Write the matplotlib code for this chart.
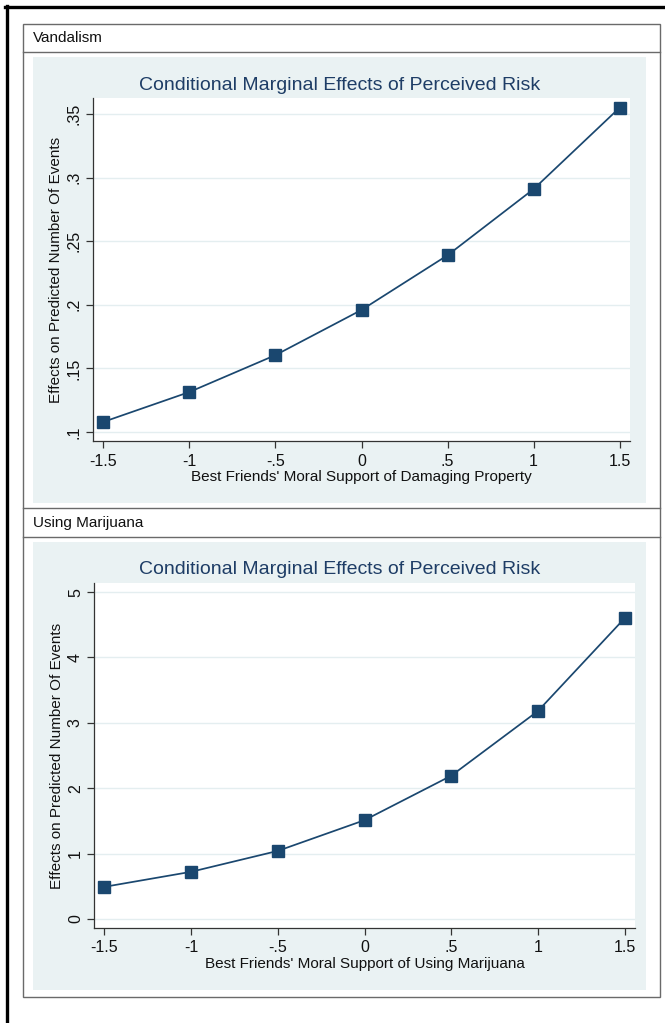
import matplotlib
matplotlib.use("Agg")
import matplotlib.pyplot as plt
from matplotlib.patches import Rectangle
from matplotlib.lines import Line2D

plt.rcParams['font.family'] = ['Liberation Sans', 'DejaVu Sans']

# ---- data ----
x_vals = [-1.5, -1.0, -0.5, 0.0, 0.5, 1.0, 1.5]
x_ticklabels = ["-1.5", "-1", "-.5", "0", ".5", "1", "1.5"]

vand_vals = [0.108, 0.1315, 0.1605, 0.196, 0.239, 0.291, 0.355]
vand_yticks = [0.10, 0.15, 0.20, 0.25, 0.30, 0.35]
vand_yticklabels = [".1", ".15", ".2", ".25", ".3", ".35"]

mari_vals = [0.49, 0.72, 1.04, 1.51, 2.19, 3.18, 4.60]
mari_yticks = [0, 1, 2, 3, 4, 5]
mari_yticklabels = ["0", "1", "2", "3", "4", "5"]

panel_titles = ["Vandalism", "Using Marijuana"]
chart_title = "Conditional Marginal Effects of Perceived Risk"
ylabel = "Effects on Predicted Number Of Events"
xlabels = ["Best Friends' Moral Support of Damaging Property",
           "Best Friends' Moral Support of Using Marijuana"]

W, H = 665, 1023
fig = plt.figure(figsize=(W / 100, H / 100), dpi=100)
fig.patch.set_facecolor("white")

BG = "#EAF2F3"
NAVY = "#1a476f"
TITLE_C = "#1e3d66"
BOX_C = "#6a6a6a"


def fx(px):
    return px / W


def fy(py):
    return 1 - py / H


def rect(x0, y0, x1, y1, **kw):
    fig.add_artist(Rectangle((fx(x0), fy(y1)), fx(x1) - fx(x0), fy(y0) - fy(y1),
                             transform=fig.transFigure, **kw))


def hline(x0, x1, y, **kw):
    fig.add_artist(Line2D([fx(x0), fx(x1)], [fy(y), fy(y)], transform=fig.transFigure, **kw))


def vline(x, y0, y1, **kw):
    fig.add_artist(Line2D([fx(x), fx(x)], [fy(y0), fy(y1)], transform=fig.transFigure, **kw))


# outer thick frame (top and left)
hline(5, 665, 7, color="black", lw=2.4)
vline(7, 6, 1023, color="black", lw=2.4)

# light panel backgrounds
rect(33, 57, 646, 503, facecolor=BG, edgecolor="none", zorder=0)
rect(33, 542, 646, 990, facecolor=BG, edgecolor="none", zorder=0)

# panel boxes
rect(23, 24, 660, 997, facecolor="none", edgecolor=BOX_C, lw=1.0, zorder=5)
hline(23, 660, 52, color=BOX_C, lw=1.0)
hline(23, 660, 508, color=BOX_C, lw=1.0)
hline(23, 660, 537, color=BOX_C, lw=1.0)

fig.text(fx(33), fy(38), panel_titles[0], fontsize=11, va="center", ha="left", color="#111111")
fig.text(fx(33), fy(523), panel_titles[1], fontsize=11, va="center", ha="left", color="#111111")

panels = [
    dict(box=(93, 98, 630, 441), vals=vand_vals, yticks=vand_yticks, ytl=vand_yticklabels,
         ylim=(0.093, 0.3626), xlabel=xlabels[0], title_y=85),
    dict(box=(94, 583, 635, 928), vals=mari_vals, yticks=mari_yticks, ytl=mari_yticklabels,
         ylim=(-0.14, 5.14), xlabel=xlabels[1], title_y=570),
]

for p in panels:
    x0, y0, x1, y1 = p["box"]
    ax = fig.add_axes([fx(x0), fy(y1), fx(x1) - fx(x0), fy(y0) - fy(y1)])
    ax.set_facecolor("white")
    ax.plot(x_vals, p["vals"], color=NAVY, lw=1.25, marker="s", markersize=8.5,
            markerfacecolor=NAVY, markeredgecolor=NAVY, zorder=3, clip_on=False)
    ax.set_xlim(-1.56, 1.56)
    ax.set_ylim(*p["ylim"])
    ax.set_xticks(x_vals)
    ax.set_xticklabels(x_ticklabels)
    ax.set_yticks(p["yticks"])
    ax.set_yticklabels(p["ytl"], rotation=90, va="center")
    ax.grid(axis="y", color="#e4eef0", lw=1.0)
    ax.set_axisbelow(True)
    for s in ["top", "right"]:
        ax.spines[s].set_visible(False)
    for s in ["left", "bottom"]:
        ax.spines[s].set_color("#333333")
        ax.spines[s].set_linewidth(0.9)
    ax.tick_params(axis="both", direction="out", length=5, width=0.9, color="#333333",
                   labelsize=11.5, labelcolor="#111111")
    ax.tick_params(axis="y", pad=3)
    ax.tick_params(axis="x", pad=4)
    ax.set_xlabel(p["xlabel"], fontsize=11, labelpad=1, color="#111111")
    ax.set_ylabel(ylabel, fontsize=11, labelpad=3, color="#111111")
    fig.text(fx(340), fy(p["title_y"]), chart_title, fontsize=14, ha="center", va="center",
             color=TITLE_C)

fig.savefig("out.png", dpi=100, facecolor="white")
